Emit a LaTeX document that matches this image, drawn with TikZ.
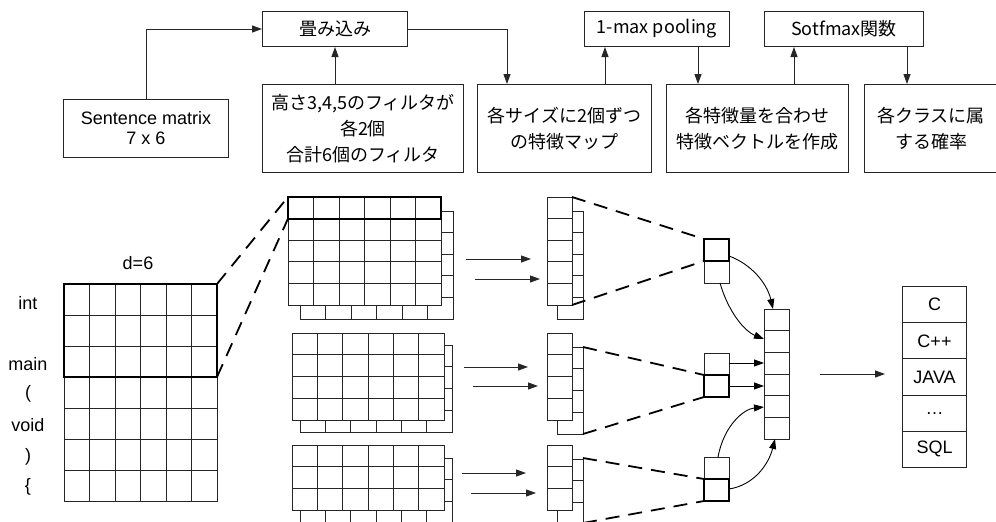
\documentclass[tikz,border=0pt]{standalone}
\usepackage{fontspec}
\setmainfont{Liberation Sans}
\newfontfamily\jp{Noto Sans CJK JP}
\usetikzlibrary{arrows.meta,calc}
\tikzset{
  gl/.style={draw=black!85, line width=0.9pt},
  thk/.style={draw=black, line width=2pt},
  box/.style={draw=black!85, line width=1pt, inner sep=0pt, anchor=north west, align=center},
  arr/.style={draw=black!85, line width=1pt, -{Triangle[length=10pt,width=7pt]}},
  carr/.style={draw=black, line width=0.9pt, -{Triangle[length=10pt,width=7pt]}},
  dsh/.style={draw=black, line width=1.8pt, dash pattern=on 14pt off 9pt},
  lbl/.style={font=\fontsize{18}{21}\selectfont, inner sep=0pt},
  jpf/.style={font=\jp\fontsize{18}{26}\selectfont},
  enf/.style={font=\fontsize{18}{20}\selectfont},
}
% x y cols rows cellwidth cellheight
\newcommand\cellgrid[6]{%
  \filldraw[gl,fill=white] (#1,#2) rectangle ({#1+#3*#5},{#2+#4*#6});
  \ifnum#3>1 \foreach \i in {2,...,#3} {\draw[gl] ({#1+(\i-1)*#5},#2) -- ++(0,{#4*#6});}\fi
  \ifnum#4>1 \foreach \j in {2,...,#4} {\draw[gl] (#1,{#2+(\j-1)*#6}) -- ++({#3*#5},0);}\fi
}
\begin{document}
\begin{tikzpicture}[x=1pt,y=-1pt]
\useasboundingbox (0,0) rectangle (996,522);
\fill[white] (0,0) rectangle (996,522);
\clip (0,0) rectangle (996,522);

% ---------- top flow ----------
\node[box, enf, minimum width=165, minimum height=58] (sm) at (63,99) {Sentence matrix\\7 x 6};
\node[box, jpf, minimum width=145, minimum height=35] (conv) at (262,11) {畳み込み};
\node[box, jpf, minimum width=201, minimum height=88] (filt) at (262,84) {高さ3,4,5のフィルタが\\各2個\\合計6個のフィルタ};
\node[box, jpf, minimum width=174, minimum height=88] (fmb) at (477,84) {各サイズに2個ずつ\\の特徴マップ};
\node[box, jpf, minimum width=145, minimum height=35] (pool) at (584,11) {1-max pooling};
\node[box, jpf, minimum width=182, minimum height=88] (feat) at (666,84) {各特徴量を合わせ\\特徴ベクトルを作成};
\node[box, jpf, minimum width=159, minimum height=35] (soft) at (764,11) {Sotfmax関数};
\node[box, jpf, minimum width=133, minimum height=88] (cls) at (864,84) {各クラスに属\\する確率};

\coordinate (fmbin) at ($(fmb.north west)+(30,0)$);
\coordinate (fmbup) at ($(fmb.north west)+(128,0)$);
\coordinate (featin) at ($(feat.north west)+(32,0)$);
\coordinate (featup) at ($(feat.north west)+(128,0)$);
\coordinate (clsin) at ($(cls.north west)+(43,0)$);

\draw[arr] (sm.north) |- (conv.west);
\draw[arr] (conv.south |- filt.north) -- (conv.south);
\draw[arr] (conv.east) -| (fmbin);
\draw[arr] (fmbup) -- (fmbup |- pool.south);
\draw[arr] (featin |- pool.south) -- (featin);
\draw[arr] (featup) -- (featup |- soft.south);
\draw[arr] (clsin |- soft.south) -- (clsin);

% ---------- sentence matrix ----------
\node[lbl] (dlab) at (138,263) {d=6};
\node[lbl] (w1) at (28,303) {int};
\node[lbl] (w3) at (28,364) {main};
\node[lbl] (w4) at (28,394) {(};
\node[lbl] (w5) at (28,425) {void};
\node[lbl] (w6) at (28,457) {)};
\node[lbl] (w7) at (28,487) {\{};
\cellgrid{64}{284}{6}{7}{25.5}{31}
\draw[thk] (64,284) rectangle (217,377);
\coordinate (mTR) at (217,284);
\coordinate (mBR) at (217,377);

% ---------- convolution feature maps ----------
\cellgrid{300}{211}{6}{5}{25.5}{21.6}
\cellgrid{288}{197}{6}{5}{25.5}{21.6}
\draw[thk] (288,197) rectangle (441,218.6);
\coordinate (fTL) at (288,197);
\coordinate (fBL) at (288,218.6);

\cellgrid{300}{345}{6}{4}{25.33}{21.75}
\cellgrid{292}{333}{6}{4}{25.33}{21.75}

\cellgrid{300}{458}{6}{3}{25.33}{21.7}
\cellgrid{292}{445}{6}{3}{25.33}{21.7}

\draw[dsh] (mTR) -- (fTL);
\draw[dsh] (mBR) -- (fBL);

% ---------- arrows into feature columns ----------
\coordinate (a1s) at (466,259); \coordinate (a1e) at (531,259);
\coordinate (a2s) at (475,279); \coordinate (a2e) at (540,279);
\coordinate (a3s) at (464,367); \coordinate (a3e) at (528,367);
\coordinate (a4s) at (473,386); \coordinate (a4e) at (538,386);
\coordinate (a5s) at (462,473); \coordinate (a5e) at (526,473);
\coordinate (a6s) at (471,493); \coordinate (a6e) at (536,493);
\foreach \k in {1,...,6} {\draw[arr] (a\k s) -- (a\k e);}

% ---------- feature columns ----------
\cellgrid{557}{211}{1}{5}{26}{21.6}
\cellgrid{547}{197}{1}{5}{25}{21.6}
\cellgrid{557}{347}{1}{4}{26}{21.75}
\cellgrid{547}{333}{1}{4}{25}{21.75}
\cellgrid{557}{459}{1}{3}{26}{21.7}
\cellgrid{547}{445}{1}{3}{25}{21.7}

% ---------- pooled ----------
\cellgrid{704}{239}{1}{2}{25}{22}
\draw[thk] (704,239) rectangle (729,261);
\cellgrid{704}{353}{1}{2}{25}{22}
\draw[thk] (704,375) rectangle (729,397);
\cellgrid{704}{457}{1}{2}{25}{22}
\draw[thk] (704,479) rectangle (729,501);

\draw[dsh] (572,197) -- (704,239);
\draw[dsh] (572,305) -- (704,261);
\draw[dsh] (583,347) -- (704,375);
\draw[dsh] (583,434) -- (704,397);
\draw[dsh] (583,458) -- (704,479);
\draw[dsh] (583,523) -- (704,501);

% ---------- final vector ----------
\cellgrid{764}{309}{1}{6}{25}{21.7}

\coordinate (p1a) at (729,256); \coordinate (fin1) at (773,309);
\coordinate (p1b) at (720,283); \coordinate (fin2) at (764,339);
\coordinate (p2a) at (729,363); \coordinate (fin3) at (764,363);
\coordinate (p2b) at (729,386); \coordinate (fin4) at (764,386);
\coordinate (p3a) at (718,457); \coordinate (fin5) at (764,407);
\coordinate (p3b) at (729,489); \coordinate (fin6) at (775,439);

\draw[carr] (p1a) .. controls +(22,8) and +(-6,-26) .. (fin1);
\draw[carr] (p1b) .. controls +(8,28) and +(-20,-8) .. (fin2);
\draw[carr] (p2a) -- (fin3);
\draw[carr] (p2b) -- (fin4);
\draw[carr] (p3a) .. controls +(6,-32) and +(-20,2) .. (fin5);
\draw[carr] (p3b) .. controls +(26,-4) and +(-6,24) .. (fin6);

% ---------- classes ----------
\coordinate (oa) at (820,374); \coordinate (ob) at (885,374);
\draw[arr] (oa) -- (ob);
\node[box, lbl, minimum width=64, minimum height=36.2] (c1) at (902,286) {C};
\node[box, lbl, minimum width=64, minimum height=36.2] (c2) at (902,322.2) {C++};
\node[box, lbl, minimum width=64, minimum height=36.2] (c3) at (902,358.4) {JAVA};
\node[box, lbl, minimum width=64, minimum height=36.2] (c4) at (902,394.6) {…};
\node[box, lbl, minimum width=64, minimum height=36.2] (c5) at (902,430.8) {SQL};
\end{tikzpicture}
\end{document}
